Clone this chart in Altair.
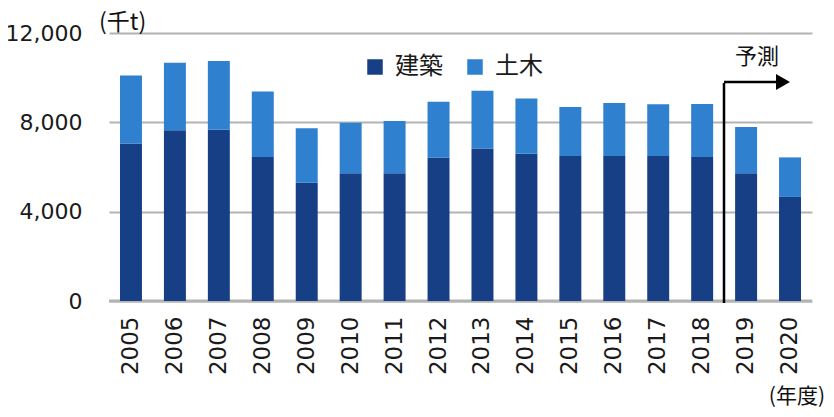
import altair as alt
import pandas as pd

years = ["2005", "2006", "2007", "2008", "2009", "2010", "2011", "2012",
         "2013", "2014", "2015", "2016", "2017", "2018", "2019", "2020"]
kenchiku = [7050, 7650, 7670, 6450, 5290, 5720, 5720, 6430,
            6830, 6590, 6490, 6490, 6490, 6450, 5720, 4660]
doboku = [3050, 3020, 3080, 2930, 2440, 2260, 2340, 2490,
          2580, 2480, 2200, 2380, 2320, 2370, 2070, 1770]
series = ["建築", "土木"]
colors = ["#173f86", "#2f80cf"]
y_ticks = [0, 4000, 8000, 12000]

rows = []
for i, yr in enumerate(years):
    rows.append({"year": yr, "type": series[0], "value": kenchiku[i], "ord": 0})
    rows.append({"year": yr, "type": series[1], "value": doboku[i], "ord": 1})
df = pd.DataFrame(rows)

W, H = 703, 268
JP = "Noto Sans CJK JP"
NUM = "DejaVu Sans"

y_axis = alt.Axis(title=None, values=y_ticks, format=",d", labelFontSize=22,
                  labelFont=NUM, labelColor="#1a1a1a", ticks=False, domain=False,
                  labelPadding=27, gridColor="#b3b3b3", gridWidth=2)

base_rule = alt.Chart(pd.DataFrame({"v": [0]})).mark_rule(
    color="#b3b3b3", strokeWidth=3
).encode(y=alt.Y("v:Q", scale=alt.Scale(domain=[0, 12000]), axis=y_axis))

bars = alt.Chart(df).mark_bar().encode(
    x=alt.X("year:N", sort=years,
            scale=alt.Scale(paddingInner=0.5, paddingOuter=0.25),
            axis=alt.Axis(title=None, labelAngle=270, labelFontSize=23, labelFont=NUM,
                          labelColor="#1a1a1a", ticks=False, domain=False,
                          labelPadding=15, labelAlign="right", labelBaseline="middle")),
    y=alt.Y("value:Q", stack="zero", scale=alt.Scale(domain=[0, 12000]), axis=y_axis),
    color=alt.Color("type:N", scale=alt.Scale(domain=series, range=colors),
                    legend=alt.Legend(title=None, orient="none", legendX=254, legendY=22,
                                      direction="horizontal", symbolType="square",
                                      symbolSize=240, symbolStrokeWidth=0,
                                      labelFontSize=24, labelFont=JP, labelColor="#1a1a1a",
                                      columnPadding=20, labelOffset=8, padding=0)),
    order=alt.Order("ord:Q", sort="ascending"),
)

one = pd.DataFrame({"a": [0]})

vline = alt.Chart(one).mark_rule(color="black", strokeWidth=2.5).encode(
    x=alt.value(615), y=alt.value(50), y2=alt.value(270))
hline = alt.Chart(one).mark_rule(color="black", strokeWidth=2.5).encode(
    x=alt.value(615), x2=alt.value(668), y=alt.value(49))
head = alt.Chart(one).mark_point(shape="triangle-right", filled=True, color="black",
                                 size=260, opacity=1).encode(
    x=alt.value(674), y=alt.value(49))
yosoku = alt.Chart(one).mark_text(text="予測", font=JP, fontSize=22, color="#111111",
                                  align="center", baseline="middle").encode(
    x=alt.value(648), y=alt.value(24))
unit = alt.Chart(one).mark_text(text="(千t)", font=JP, fontSize=23, color="#111111",
                                align="left", baseline="middle").encode(
    x=alt.value(-10), y=alt.value(-10))
nendo = alt.Chart(one).mark_text(text="(年度)", font=JP, fontSize=21, color="#111111",
                                 align="right", baseline="middle").encode(
    x=alt.value(716), y=alt.value(364))

chart = alt.layer(base_rule, bars, vline, hline, head, yosoku, unit, nendo).properties(
    width=W, height=H,
    autosize=alt.AutoSizeParams(type="none"),
    padding={"left": 101, "top": 25, "right": 14, "bottom": 108},
).configure_view(stroke=None).resolve_scale(y="shared")

chart.save("out.html", embed_options={"renderer": "svg", "actions": False})
